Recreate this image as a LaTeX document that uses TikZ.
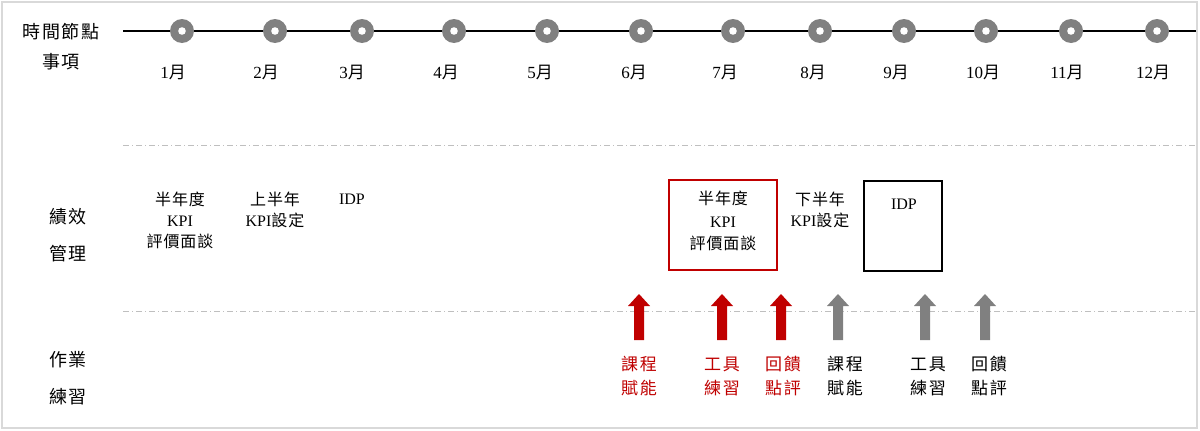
\documentclass[tikz,border=0pt]{standalone}
\usepackage{fontspec}
\setmainfont{Liberation Serif}
\newfontfamily\cjk[LetterSpace=6]{Noto Sans CJK TC}
\newfontfamily\cjkw[LetterSpace=10]{Noto Sans CJK TC}
\definecolor{dkred}{HTML}{C00000}
\definecolor{midgray}{HTML}{808080}
\definecolor{framegray}{HTML}{D9D9D9}
\definecolor{dashgray}{HTML}{BFBFBF}
\tikzset{
  rowlabel/.style={font=\fontsize{18}{37}\selectfont\cjkw, align=center, anchor=center},
  toplabel/.style={font=\fontsize{18}{30}\selectfont\cjkw, align=center, anchor=center},
  month/.style={font=\fontsize{17}{18}\selectfont, anchor=center},
  item/.style={font=\fontsize{16}{21}\selectfont, align=center, anchor=center},
  armlabel/.style={font=\fontsize{17}{24}\selectfont\cjkw, align=center, anchor=center},
  sep/.style={draw=dashgray, line width=0.8pt, dash pattern=on 6pt off 3pt on 1pt off 3pt},
}
\newcommand{\yue}{{\cjk 月}}
\begin{document}
\begin{tikzpicture}[x=1pt,y=-1pt]
\useasboundingbox (0,0) rectangle (1200,431);
\fill[white] (0,0) rectangle (1200,431);
\draw[framegray, line width=2pt] (2,2) rectangle (1197,428);

% timeline
\coordinate (tl0) at (123,31);
\coordinate (tl1) at (1196,31);
\draw[black, line width=2.2pt] (tl0) -- (tl1);
\foreach \x/\m/\lx in {182/1/173,275/2/266,362/3/352,454/4/446,547/5/540,641/6/634,733/7/725,820/8/813,904/9/896,986/10/983,1071/11/1067,1157/12/1153}{
  \fill[midgray] (\x,31) circle (12);
  \fill[white] (\x,31) circle (3.8);
  \node[month] (m\m) at (\lx,72) {\m\yue};
}

\node[toplabel] (top) at (61,47) {時間節點\\事項};

% separators
\coordinate (s1a) at (123,145);
\coordinate (s1b) at (1196,145);
\coordinate (s2a) at (123,311);
\coordinate (s2b) at (1196,311);
\draw[sep] (s1a) -- (s1b);
\draw[sep] (s2a) -- (s2b);

% row labels
\node[rowlabel] (perf) at (68,235) {績效\\管理};
\node[rowlabel] (prac) at (68,378) {作業\\練習};

% performance items
\node[item] (p1) at (180,220) {{\cjk 半年度}\\KPI\\{\cjk 評價面談}};
\node[item] (p2) at (275,210) {{\cjk 上半年}\\KPI{\cjk 設定}};
\node[item] (p3) at (352,199) {IDP};

\draw[dkred, line width=2.2pt] (669,180) rectangle (777,270);
\node[item, font=\fontsize{16}{22.5}\selectfont] (p4) at (723,221) {{\cjk 半年度}\\KPI\\{\cjk 評價面談}};
\node[item] (p5) at (820,210) {{\cjk 下半年}\\KPI{\cjk 設定}};
\draw[black, line width=2.6pt] (864,181) rectangle (942,271);
\node[item] (p6) at (904,204) {IDP};

% block arrows
\foreach \x/\c in {639/dkred,722/dkred,781/dkred,838/midgray,925/midgray,985/midgray}{
  \fill[\c] (\x-5,340) -- (\x-5,306) -- (\x-11,306) -- (\x,294) -- (\x+11,306) -- (\x+5,306) -- (\x+5,340) -- cycle;
}

% arrow labels
\node[armlabel, text=dkred] (a1) at (639,376) {課程\\賦能};
\node[armlabel, text=dkred] (a2) at (722,376) {工具\\練習};
\node[armlabel, text=dkred] (a3) at (783,376) {回饋\\點評};
\node[armlabel] (a4) at (845,376) {課程\\賦能};
\node[armlabel] (a5) at (928,376) {工具\\練習};
\node[armlabel] (a6) at (989,376) {回饋\\點評};
\end{tikzpicture}
\end{document}
